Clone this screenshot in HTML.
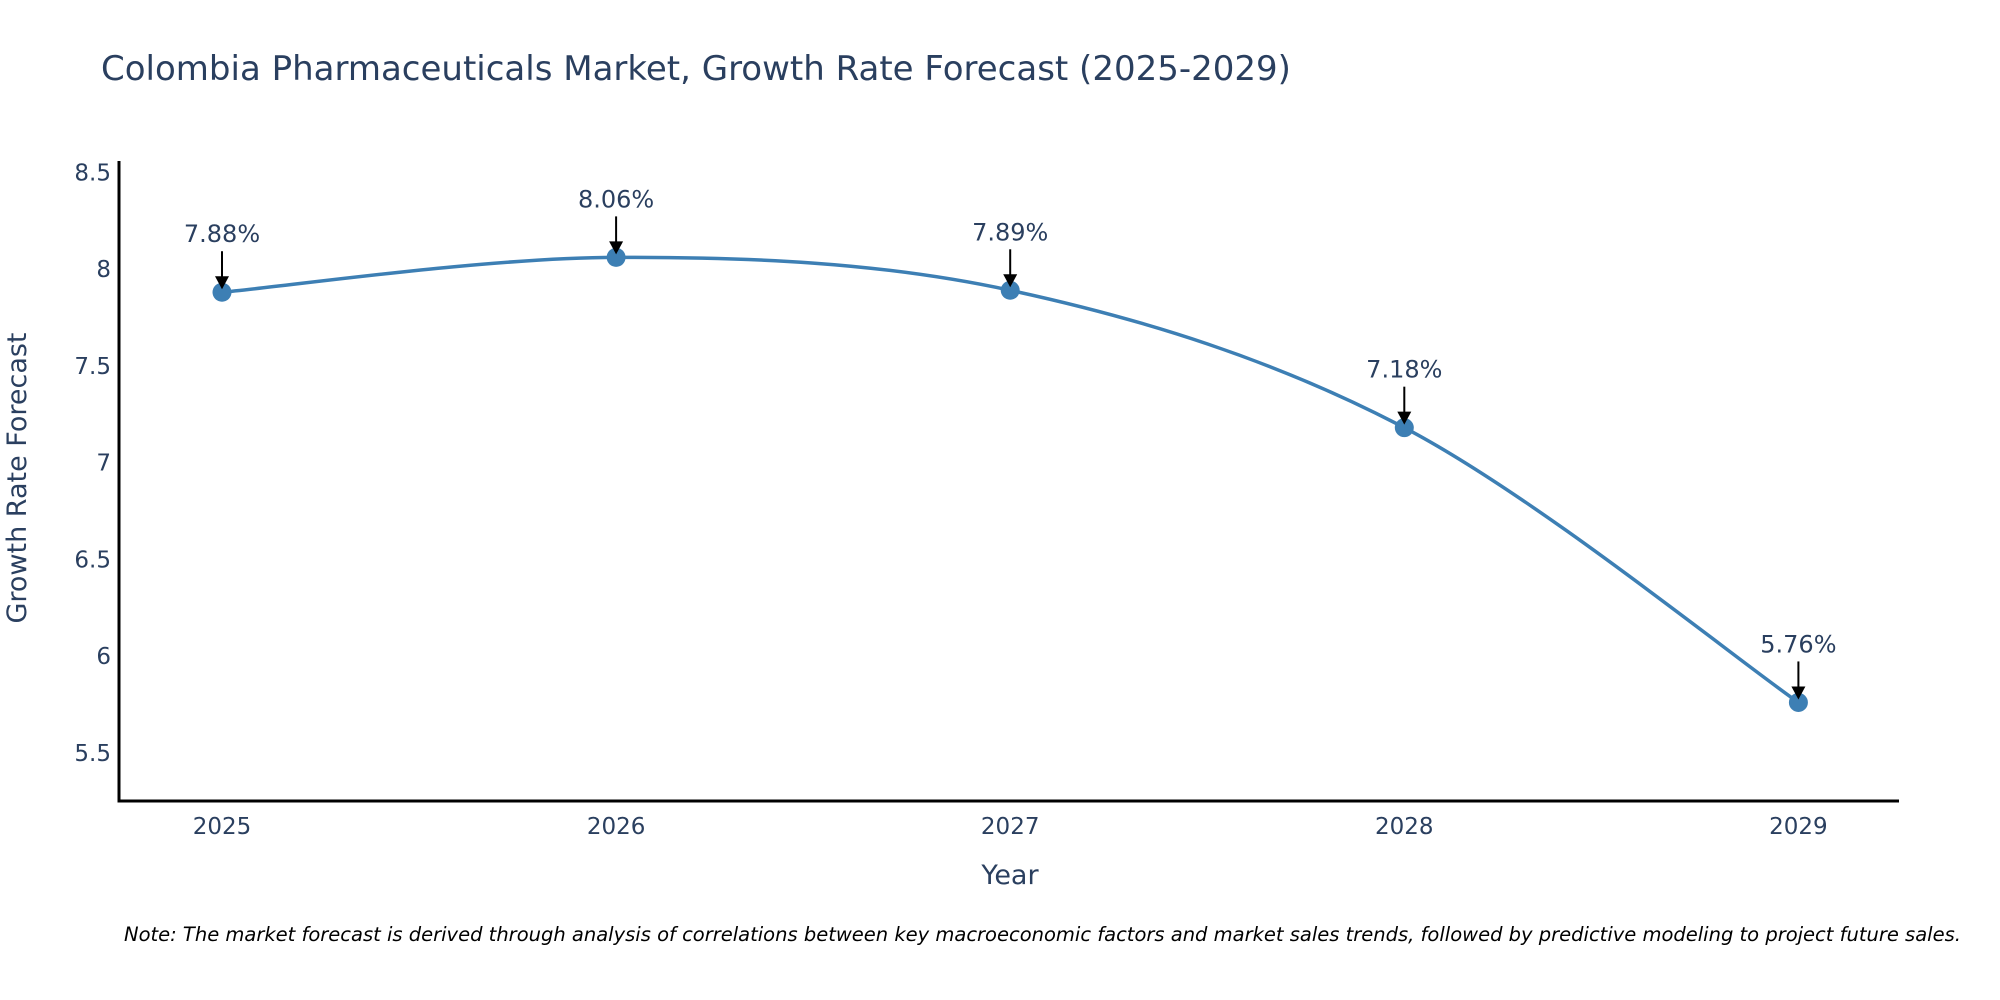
<!DOCTYPE html>
<html><head><meta charset="utf-8"><style>
html,body{margin:0;padding:0;background:#fff;}
svg{display:block;font-family:"DejaVu Sans","Liberation Sans",sans-serif;}
</style></head><body>
<svg id="chart" width="2000" height="1000" viewBox="0 0 2000 1000">
<text x="101" y="80" font-size="34" fill="#2a3f5f">Colombia Pharmaceuticals Market, Growth Rate Forecast (2025-2029)</text>
<g id="yticks"></g>
<g id="xticks"></g>
<line x1="119" y1="161" x2="119" y2="802" stroke="#000" stroke-width="3"/>
<line x1="117.5" y1="801" x2="1899" y2="801" stroke="#000" stroke-width="3"/>
<text x="26" y="478" font-size="27" fill="#2a3f5f" text-anchor="middle" transform="rotate(-90 26 478)">Growth Rate Forecast</text>
<text x="1010" y="884" font-size="27" fill="#2a3f5f" text-anchor="middle">Year</text>
<path id="curve" fill="none" stroke="#3d7fb4" stroke-width="3.5"/>
<g id="marks"></g>
<text x="124" y="941" font-size="19.5" font-style="italic" fill="#000">Note: The market forecast is derived through analysis of correlations between key macroeconomic factors and market sales trends, followed by predictive modeling to project future sales.</text>
</svg>
<script>
const years = [2025, 2026, 2027, 2028, 2029];
const values = [7.88, 8.06, 7.89, 7.18, 5.76];
const yTicks = [5.5, 6, 6.5, 7, 7.5, 8, 8.5];
const yTickLabels = ["5.5", "6", "6.5", "7", "7.5", "8", "8.5"];
const NS = "http://www.w3.org/2000/svg";
const xs = yr => 222 + (yr - 2025) * 394.1;
const ys = v => 269 + (8 - v) * 193.5;
function mk(tag, attrs, parent){const e=document.createElementNS(NS,tag);for(const k in attrs)e.setAttribute(k,attrs[k]);parent.appendChild(e);return e;}
const yg=document.getElementById('yticks'), xg=document.getElementById('xticks'), mg=document.getElementById('marks');
yTicks.forEach((t,i)=>{const e=mk('text',{x:111,y:ys(t)+8,'font-size':23,fill:'#2a3f5f','text-anchor':'end'},yg);e.textContent=yTickLabels[i];

});
years.forEach(y=>{const e=mk('text',{x:xs(y),y:834,'font-size':23,fill:'#2a3f5f','text-anchor':'middle'},xg);e.textContent=String(y);

});
const pts=years.map((y,i)=>[xs(y),ys(values[i])]);
let d=`M${pts[0][0]},${pts[0][1]}`;const s=1/6;
for(let i=0;i<pts.length-1;i++){const p0=pts[Math.max(0,i-1)],p1=pts[i],p2=pts[i+1],p3=pts[Math.min(pts.length-1,i+2)];
d+=` C${p1[0]+(p2[0]-p0[0])*s},${p1[1]+(p2[1]-p0[1])*s} ${p2[0]-(p3[0]-p1[0])*s},${p2[1]-(p3[1]-p1[1])*s} ${p2[0]},${p2[1]}`;}
document.getElementById('curve').setAttribute('d',d);
pts.forEach((p,i)=>{
const c=mk('circle',{cx:p[0],cy:p[1],r:9.5,fill:'#3d7fb4'},mg);


const l=mk('line',{x1:p[0],y1:p[1]-41,x2:p[0],y2:p[1]-14,stroke:'#000','stroke-width':2},mg);


const h=mk('polygon',{points:`${p[0]-7},${p[1]-16} ${p[0]+7},${p[1]-16} ${p[0]},${p[1]-3}`,fill:'#000'},mg);


const t=mk('text',{x:p[0],y:p[1]-50,'font-size':24,fill:'#2a3f5f','text-anchor':'middle'},mg);
t.textContent=values[i].toFixed(2)+'%';


});
</script>
</body></html>
